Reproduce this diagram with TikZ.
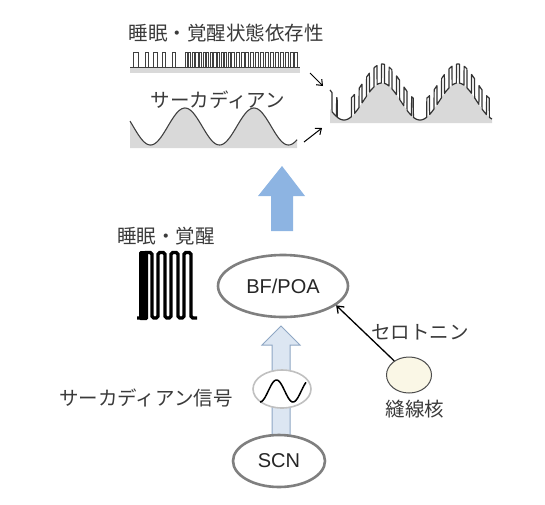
\documentclass[tikz,border=0pt]{standalone}
\usepackage{fontspec}
\setmainfont{Liberation Sans}
\newfontfamily\jp{Noto Sans CJK JP}
\usetikzlibrary{shapes.geometric,arrows.meta}
\definecolor{txt}{HTML}{3A3A3A}
\definecolor{bigblue}{HTML}{8DB4E2}
\definecolor{paleblue}{HTML}{DCE6F2}
\definecolor{paleedge}{HTML}{8FA7C4}
\definecolor{ringgray}{HTML}{7F7F7F}
\definecolor{lightring}{HTML}{C0C0C0}
\definecolor{cream}{HTML}{FAF7E6}
\definecolor{wavegray}{HTML}{D9D9D9}
\begin{document}
\begin{tikzpicture}[x=1pt,y=-1pt,
  jtext/.style={font=\jp\fontsize{19.5}{23}\selectfont, text=txt, inner sep=0pt},
  wave/.style={line width=0.8pt, draw=black!75},
  sinewave/.style={line width=1.1pt, draw=black!75},
  ring/.style={ellipse, draw=ringgray, line width=2.6pt, fill=white, inner sep=0pt,
     font=\fontsize{20}{24}\selectfont, text=black!85},
  thinarrow/.style={line width=1pt, -{Straight Barb[length=5pt,width=8pt]}},
]
\useasboundingbox (0,0) rectangle (545,504);

% texts
\node[jtext] (t1) at (226,33) {睡眠・覚醒状態依存性};
\node[jtext] (t2) at (218,100) {サーカディアン};
\node[jtext] (t3) at (166,236) {睡眠・覚醒};
\node[jtext] (t4) at (146,398) {サーカディアン信号};
\node[jtext] (t5) at (420,332) {セロトニン};
\node[jtext] (t6) at (415,409) {縫線核};

% top pulse train
\fill[wavegray] (130,67) rectangle (300,73);
\draw[wave] (130,67) -- (300,67);
\foreach \a/\b in {133/138,145/148,153/157,162/165,172/175}
  \draw[wave] (\a,67) |- (\b,52) -- (\b,67);
\foreach \i in {0,...,13}
  \draw[wave] ({185+3.6*\i},67) |- ({187.2+3.6*\i},52) -- ({187.2+3.6*\i},67);
\foreach \i in {0,...,12}
  \draw[wave] ({236+4.9*\i},67) |- ({239+4.9*\i},52) -- ({239+4.9*\i},67);

% circadian sine (left)
\fill[wavegray] (130,148) -- plot[domain=130:297,samples=120] (\x,{126.5-18.5*cos(5.2174*(\x-185))}) -- (297,148) -- cycle;
\draw[sinewave] plot[domain=130:297,samples=120] (\x,{126.5-18.5*cos(5.2174*(\x-185))});

% combined wave
\fill[wavegray] (330,123) -- plot[domain=330:492,samples=120] (\x,{101.5-18.5*cos(4.7368*(\x-382))}) -- (492,123) -- cycle;
\draw[wave, line width=1.2pt, draw=black!80, line join=round] plot[domain=330:492,samples=1001]
  (\x,{101.5-18.5*cos(4.7368*(\x-382)) - 19*(mod(\x-329,7.5)<3)*(cos(4.7368*(\x-382))>-0.85)});

% small arrows to combined wave
\coordinate (a1s) at (310,73);
\coordinate (a1e) at (323,86);
\coordinate (a2s) at (304,142);
\coordinate (a2e) at (322,128);
\draw[thinarrow] (a1s) -- (a1e);
\draw[thinarrow] (a2s) -- (a2e);

% big blue arrow
\fill[bigblue] (282,166) -- (305,196) -- (293,196) -- (293,231) -- (271,231) -- (271,196) -- (258,196) -- cycle;

% black pulse block (sleep / wake)
\fill[black, rounded corners=1.5pt] (139,251) rectangle (148,320);
\draw[line width=3.3pt, rounded corners=1.8pt]
  (137,318) -- (144,318) -- (144,252.5) -- (152,252.5) -- (152,318) -- (158,318) -- (158,252.5)
  -- (165,252.5) -- (165,318) -- (171,318) -- (171,252.5) -- (178,252.5) -- (178,318)
  -- (184,318) -- (184,252.5) -- (191,252.5) -- (191,318) -- (197,318);

% pale arrow from SCN
\filldraw[fill=paleblue, draw=paleedge, line width=1pt]
  (281,326) -- (300,345) -- (290,345) -- (290,440) -- (272,440) -- (272,345) -- (262,345) -- cycle;

% nodes
\node[ring, minimum width=130pt, minimum height=62pt] (bf) at (283,286) {BF/POA};
\node[ring, minimum width=92pt, minimum height=52pt] (scn) at (279,461) {SCN};
\node[ellipse, draw=lightring, line width=1.6pt, fill=white, minimum width=58pt, minimum height=38pt] (osc) at (282,389) {};
\draw[line width=1.5pt, black] plot[domain=260:306,samples=60] (\x,{391+11*cos(10.909*(\x-260))});
\node[ellipse, draw=black!70, line width=1pt, fill=cream, minimum width=45pt, minimum height=36pt] (raphe) at (409,375) {};

% serotonin arrow
\draw[line width=1.3pt, -{Straight Barb[length=6pt,width=9pt]}] (raphe) -- (bf.-20);
\end{tikzpicture}
\end{document}
